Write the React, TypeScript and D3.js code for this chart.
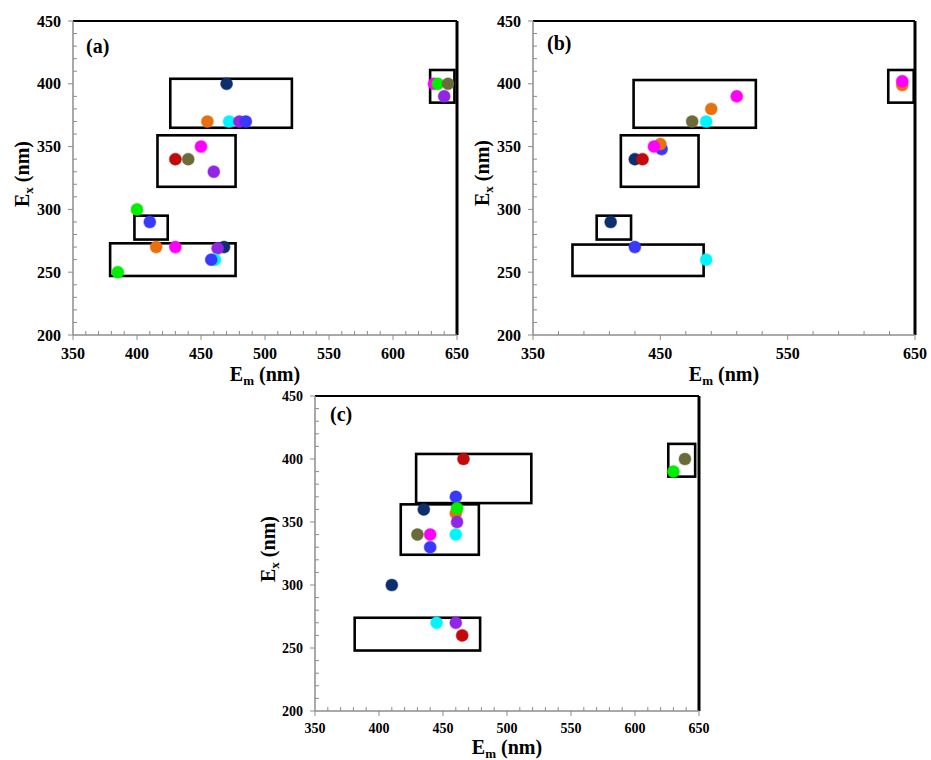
import React from 'react';
import * as d3 from 'd3';

const colorMap: Record<string, string> = {
  navy: '#0e2f6d',
  orange: '#e8700f',
  cyan: '#00f6ff',
  purple: '#9226e6',
  blue: '#3838ff',
  magenta: '#ff00ff',
  red: '#c20a0a',
  olive: '#6b6a3a',
  green: '#00ee00',
};

// ---- Panel (a) ----
const aSeries = ['navy', 'orange', 'cyan', 'purple', 'blue', 'magenta', 'red', 'olive', 'purple', 'green', 'blue', 'orange', 'magenta', 'navy', 'purple', 'cyan', 'blue', 'green', 'magenta', 'green', 'olive', 'purple'];
const aEm = [470, 455, 472, 480, 485, 450, 430, 440, 460, 400, 410, 415, 430, 468, 463, 461, 458, 385, 632, 635, 643, 640];
const aEx = [400, 370, 370, 370, 370, 350, 340, 340, 330, 300, 290, 270, 270, 270, 269, 260, 260, 250, 400, 400, 400, 390];
const aBoxEm0 = [426, 416, 398, 379, 629];
const aBoxEm1 = [521, 477, 424, 477, 648];
const aBoxEx0 = [365, 318, 276, 247, 385];
const aBoxEx1 = [404, 359, 295, 273, 411];
const aXTickLabels = [350, 400, 450, 500, 550, 600, 650];

// ---- Panel (b) ----
const bSeries = ['magenta', 'orange', 'olive', 'cyan', 'blue', 'orange', 'magenta', 'navy', 'red', 'navy', 'blue', 'cyan', 'orange', 'magenta'];
const bEm = [510, 490, 475, 486, 451, 450, 445, 430, 436, 411, 430, 486, 640, 640];
const bEx = [390, 380, 370, 370, 348, 352, 350, 340, 340, 290, 270, 260, 399, 402];
const bBoxEm0 = [429, 419, 400, 381, 629];
const bBoxEm1 = [525, 480, 427, 484, 649];
const bBoxEx0 = [365, 318, 276, 247, 385];
const bBoxEx1 = [403, 359, 295, 272, 411];
const bXTickLabels = [350, 450, 550, 650];

// ---- Panel (c) ----
const cSeries = ['red', 'blue', 'navy', 'orange', 'green', 'purple', 'olive', 'magenta', 'cyan', 'blue', 'navy', 'cyan', 'purple', 'red', 'olive', 'green'];
const cEm = [466, 460, 435, 460, 461, 461, 430, 440, 460, 440, 410, 445, 460, 465, 639, 630];
const cEx = [400, 370, 360, 357, 361, 350, 340, 340, 340, 330, 300, 270, 270, 260, 400, 390];
const cBoxEm0 = [429, 417, 381, 626];
const cBoxEm1 = [519, 478, 479, 647];
const cBoxEx0 = [365, 324, 248, 386];
const cBoxEx1 = [404, 364, 274, 412];
const cXTickLabels = [350, 400, 450, 500, 550, 600, 650];

const yTickLabels = [200, 250, 300, 350, 400, 450];

const FONT = '"Liberation Serif", "Times New Roman", serif';

type PanelProps = {
  tag: string;
  left: number; right: number; top: number; bottom: number;
  series: string[]; em: number[]; ex: number[];
  box0: number[]; box1: number[]; boy0: number[]; boy1: number[];
  xLabels: number[]; xMinorStep: number;
  tickFont: number;
  xLabelDy: number; xTitleDy: number;
  yTitleX: number; yTitleY: number;
  tagX: number; tagY: number;
};

function Panel(p: PanelProps) {
  const x = d3.scaleLinear().domain([350, 650]).range([p.left, p.right]);
  const y = d3.scaleLinear().domain([200, 450]).range([p.bottom, p.top]);
  const xMinor = d3.range(350, 651, p.xMinorStep);
  const yMinor = d3.range(200, 451, 10);
  const axisColor = '#8c8c8c';
  return (
    <g>
      {/* top and right frame */}
      <line x1={p.left} x2={p.right} y1={p.top} y2={p.top} stroke="#000" strokeWidth={2} />
      <line x1={p.right} x2={p.right} y1={p.top} y2={p.bottom} stroke="#000" strokeWidth={3} />
      {/* axes */}
      <line x1={p.left} x2={p.right} y1={p.bottom} y2={p.bottom} stroke={axisColor} strokeWidth={1.5} />
      <line x1={p.left} x2={p.left} y1={p.top} y2={p.bottom} stroke={axisColor} strokeWidth={1.5} />
      {xMinor.map((v) => {
        const major = p.xLabels.includes(v);
        return (
          <line key={'xt' + v} x1={x(v)} x2={x(v)} y1={p.bottom} y2={major ? p.bottom + 5 : p.bottom - 4} stroke={axisColor} strokeWidth={1} />
        );
      })}
      {yMinor.map((v) => {
        const major = v % 50 === 0;
        return (
          <line key={'yt' + v} x1={p.left} x2={major ? p.left - 5 : p.left + 4} y1={y(v)} y2={y(v)} stroke={axisColor} strokeWidth={1} />
        );
      })}
      {p.xLabels.map((v) => (
        <text key={'xl' + v} x={x(v)} y={p.bottom + p.xLabelDy} textAnchor="middle" fontFamily={FONT} fontWeight="bold" fontSize={p.tickFont}>{v}</text>
      ))}
      {yTickLabels.map((v) => (
        <text key={'yl' + v} x={p.left - 12} y={y(v) + p.tickFont * 0.35} textAnchor="end" fontFamily={FONT} fontWeight="bold" fontSize={p.tickFont}>{v}</text>
      ))}
      {/* boxes */}
      {p.box0.map((b, i) => (
        <rect key={'bx' + i} x={x(b)} y={y(p.boy1[i])} width={x(p.box1[i]) - x(b)} height={y(p.boy0[i]) - y(p.boy1[i])} fill="none" stroke="#000" strokeWidth={2.6} />
      ))}
      {/* points */}
      {p.em.map((v, i) => (
        <circle key={'pt' + i} cx={x(v)} cy={y(p.ex[i])} r={6} fill={colorMap[p.series[i]]} stroke={colorMap[p.series[i]]} strokeOpacity={0.45} strokeWidth={1.2} />
      ))}
      {/* titles */}
      <text x={(p.left + p.right) / 2} y={p.bottom + p.xTitleDy} textAnchor="middle" fontFamily={FONT} fontWeight="bold" fontSize={20}>
        E<tspan fontSize={13} dy={4}>m</tspan><tspan dy={-4}> (nm)</tspan>
      </text>
      <text transform={`translate(${p.yTitleX},${p.yTitleY}) rotate(-90)`} y={7} textAnchor="middle" fontFamily={FONT} fontWeight="bold" fontSize={20}>
        E<tspan fontSize={13} dy={4}>x</tspan><tspan dy={-4}> (nm)</tspan>
      </text>
      <text x={p.tagX} y={p.tagY} fontFamily={FONT} fontWeight="bold" fontSize={20}>{p.tag}</text>
    </g>
  );
}

export default function App() {
  return (
    <svg width={931} height={760} style={{ position: 'absolute', left: 0, top: 0, background: '#fff' }}>
      <rect x={0} y={0} width={931} height={760} fill="#fff" />
      <Panel tag="(a)" left={73} right={457} top={21} bottom={335}
        series={aSeries} em={aEm} ex={aEx}
        box0={aBoxEm0} box1={aBoxEm1} boy0={aBoxEx0} boy1={aBoxEx1}
        xLabels={aXTickLabels} xMinorStep={10} tickFont={16}
        xLabelDy={24} xTitleDy={46} yTitleX={22} yTitleY={174} tagX={86} tagY={53} />
      <Panel tag="(b)" left={533} right={915} top={21} bottom={335}
        series={bSeries} em={bEm} ex={bEx}
        box0={bBoxEm0} box1={bBoxEm1} boy0={bBoxEx0} boy1={bBoxEx1}
        xLabels={bXTickLabels} xMinorStep={20} tickFont={16}
        xLabelDy={24} xTitleDy={46} yTitleX={482} yTitleY={173} tagX={547} tagY={50} />
      <Panel tag="(c)" left={315} right={699} top={396} bottom={711}
        series={cSeries} em={cEm} ex={cEx}
        box0={cBoxEm0} box1={cBoxEm1} boy0={cBoxEx0} boy1={cBoxEx1}
        xLabels={cXTickLabels} xMinorStep={10} tickFont={14}
        xLabelDy={22} xTitleDy={43} yTitleX={268} yTitleY={549} tagX={330} tagY={421} />
    </svg>
  );
}
